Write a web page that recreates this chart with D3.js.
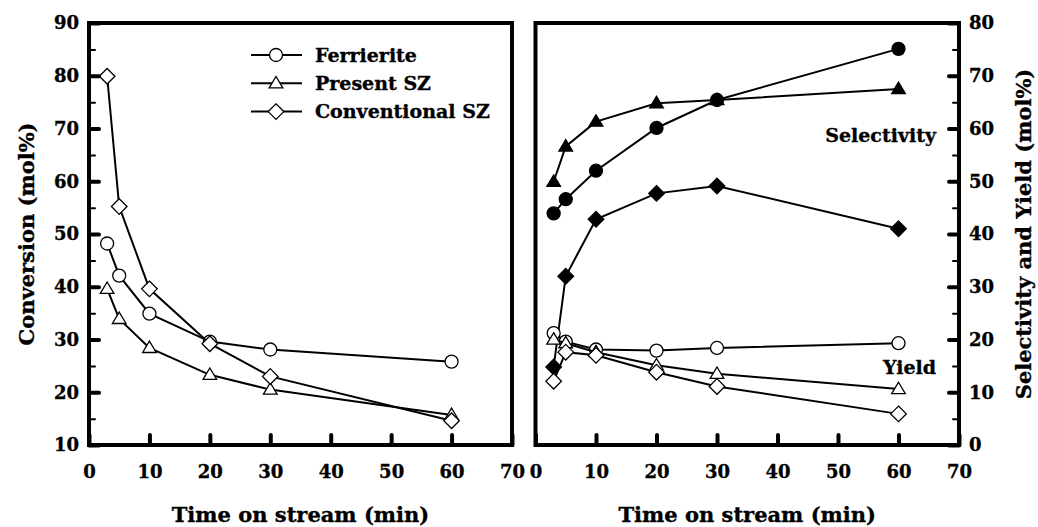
<!DOCTYPE html>
<html>
<head>
<meta charset="utf-8">
<script src="https://cdn.jsdelivr.net/npm/d3@7"></script>
<style>
  body { margin: 0; background: #fff; }
  svg { display: block; }
  text { font-family: "DejaVu Serif", serif; font-weight: bold; fill: #000; stroke: #000; stroke-width: 0.35px; }
  .tick text { font-size: 18px; }
  .axis-title { font-size: 21px; }
  .legend text, .note { font-size: 19px; }
</style>
</head>
<body>
<svg id="chart" width="1038" height="527"></svg>
<script>
// time on stream and the three catalysts
const time = [3, 5, 10, 20, 30, 60];
const catalysts = ["Ferrierite", "Present SZ", "Conventional SZ"];
const markerShapes = ["circle", "triangle", "diamond"];

// left panel: conversion (mol%)
const convFerrierite = [48.2, 42.1, 34.9, 29.6, 28.1, 25.8];
const convPresent = [39.6, 33.9, 28.4, 23.3, 20.5, 15.7];
const convConventional = [79.9, 55.2, 39.6, 29.2, 23.0, 14.6];

// right panel: selectivity (filled) and yield (open), mol%
const selFerrierite = [43.9, 46.6, 52.0, 60.1, 65.4, 75.1];
const selPresent = [49.9, 56.6, 61.3, 64.8, 65.4, 67.5];
const selConventional = [14.8, 32.0, 42.8, 47.7, 49.1, 41.0];
const yieldFerrierite = [21.2, 19.6, 18.1, 17.9, 18.4, 19.3];
const yieldPresent = [20.0, 19.3, 17.6, 15.1, 13.5, 10.6];
const yieldConventional = [12.1, 17.6, 17.0, 13.8, 11.1, 5.9];

// ticks
const xTicks = [0, 10, 20, 30, 40, 50, 60, 70];
const leftMajor = [10, 20, 30, 40, 50, 60, 70, 80, 90];
const leftMinor = [15, 25, 35, 45, 55, 65, 75, 85];
const rightMajor = [0, 10, 20, 30, 40, 50, 60, 70, 80];
const rightMinor = [5, 15, 25, 35, 45, 55, 65, 75];

const svg = d3.select("#chart");

const plotTop = 23, plotBottom = 445;
const xL = d3.scaleLinear().domain([0, 70]).range([89, 512]);
const yL = d3.scaleLinear().domain([10, 90]).range([plotBottom, plotTop]);
const xR = d3.scaleLinear().domain([0, 70]).range([535.5, 959]);
const yR = d3.scaleLinear().domain([0, 80]).range([plotBottom, plotTop]);

function markerPath(shape, r) {
    if (shape === "circle") {
        return `M${-r},0A${r},${r} 0 1,0 ${r},0A${r},${r} 0 1,0 ${-r},0Z`;
    }
    if (shape === "triangle") {
        const h = r * 1.75;
        return `M0,${-h * 0.6}L${r * 1.05},${h * 0.4}L${-r * 1.05},${h * 0.4}Z`;
    }
    const d = r * 1.2;
    return `M0,${-d}L${d},0L0,${d}L${-d},0Z`;
}

function drawSeries(g, x, y, values, shape, filled) {
    const pts = time.map((t, i) => ({ t: t, v: values[i] }));
    g.append("path")
        .datum(pts)
        .attr("fill", "none")
        .attr("stroke", "#000")
        .attr("stroke-width", 2)
        .attr("d", d3.line().x(d => x(d.t)).y(d => y(d.v)));
    g.selectAll(null)
        .data(pts)
        .join("path")
        .attr("transform", d => `translate(${x(d.t)},${y(d.v)})`)
        .attr("d", markerPath(shape, 6.5))
        .attr("fill", filled ? "#000" : "#fff")
        .attr("stroke", "#000")
        .attr("stroke-width", 1.3);
}

function drawFrame(x) {
    svg.append("rect")
        .attr("x", x.range()[0])
        .attr("y", plotTop)
        .attr("width", x.range()[1] - x.range()[0])
        .attr("height", plotBottom - plotTop)
        .attr("fill", "none")
        .attr("stroke", "#000")
        .attr("stroke-width", 4);
}

function styleAxis(g, width) {
    g.select(".domain").remove();
    g.selectAll(".tick line").attr("stroke", "#000").attr("stroke-width", width).attr("stroke-linecap", "round");
}

// ---- left panel ----
const gL = svg.append("g");
drawSeries(gL, xL, yL, convFerrierite, markerShapes[0], false);
drawSeries(gL, xL, yL, convPresent, markerShapes[1], false);
drawSeries(gL, xL, yL, convConventional, markerShapes[2], false);

svg.append("g").attr("transform", `translate(0,${plotBottom})`)
    .call(d3.axisBottom(xL).tickValues(xTicks).tickSize(-10).tickPadding(20))
    .call(g => styleAxis(g, 4));
svg.append("g").attr("transform", `translate(${xL.range()[0]},0)`)
    .call(d3.axisLeft(yL).tickValues(leftMajor).tickSize(-10).tickPadding(10))
    .call(g => styleAxis(g, 4));
svg.append("g").attr("transform", `translate(${xL.range()[0]},0)`)
    .call(d3.axisLeft(yL).tickValues(leftMinor).tickSize(-6).tickFormat(""))
    .call(g => styleAxis(g, 2));
drawFrame(xL);

// ---- right panel ----
const gR = svg.append("g");
drawSeries(gR, xR, yR, selFerrierite, markerShapes[0], true);
drawSeries(gR, xR, yR, selPresent, markerShapes[1], true);
drawSeries(gR, xR, yR, selConventional, markerShapes[2], true);
drawSeries(gR, xR, yR, yieldFerrierite, markerShapes[0], false);
drawSeries(gR, xR, yR, yieldPresent, markerShapes[1], false);
drawSeries(gR, xR, yR, yieldConventional, markerShapes[2], false);

svg.append("g").attr("transform", `translate(0,${plotBottom})`)
    .call(d3.axisBottom(xR).tickValues(xTicks).tickSize(-10).tickPadding(20))
    .call(g => styleAxis(g, 4));
svg.append("g").attr("transform", `translate(${xR.range()[1]},0)`)
    .call(d3.axisRight(yR).tickValues(rightMajor).tickSize(-10).tickPadding(10))
    .call(g => styleAxis(g, 4));
svg.append("g").attr("transform", `translate(${xR.range()[1]},0)`)
    .call(d3.axisRight(yR).tickValues(rightMinor).tickSize(-6).tickFormat(""))
    .call(g => styleAxis(g, 2));
drawFrame(xR);

svg.selectAll(".tick text").attr("fill", "#000");

// ---- titles ----
const midY = (plotTop + plotBottom) / 2;
svg.append("text").attr("class", "axis-title")
    .attr("x", (xL.range()[0] + xL.range()[1]) / 2).attr("y", 522)
    .attr("text-anchor", "middle").text("Time on stream (min)");
svg.append("text").attr("class", "axis-title")
    .attr("x", (xR.range()[0] + xR.range()[1]) / 2).attr("y", 522)
    .attr("text-anchor", "middle").text("Time on stream (min)");
svg.append("text").attr("class", "axis-title")
    .attr("transform", `translate(34,${midY}) rotate(-90)`)
    .attr("text-anchor", "middle").text("Conversion (mol%)");
svg.append("text").attr("class", "axis-title")
    .attr("transform", `translate(1031,${midY}) rotate(-90)`)
    .attr("text-anchor", "middle").text("Selectivity and Yield (mol%)");

svg.append("text").attr("class", "note")
    .attr("x", 936).attr("y", yR(58.8)).attr("dy", "0.36em")
    .attr("text-anchor", "end").text("Selectivity");
svg.append("text").attr("class", "note")
    .attr("x", 936).attr("y", yR(14.8)).attr("dy", "0.36em")
    .attr("text-anchor", "end").text("Yield");

// ---- legend ----
const legend = svg.append("g").attr("class", "legend");
const rows = catalysts.map((c, i) => ({ name: c, shape: markerShapes[i], y: 55 + i * 28.3 }));
legend.selectAll("line").data(rows).join("line")
    .attr("x1", 251).attr("x2", 302)
    .attr("y1", d => d.y).attr("y2", d => d.y)
    .attr("stroke", "#000").attr("stroke-width", 2);
legend.selectAll("path").data(rows).join("path")
    .attr("transform", d => `translate(276,${d.y})`)
    .attr("d", d => markerPath(d.shape, 6.5))
    .attr("fill", "#fff").attr("stroke", "#000").attr("stroke-width", 1.3);
legend.selectAll("text").data(rows).join("text")
    .attr("x", 315).attr("y", d => d.y).attr("dy", "0.36em")
    .text(d => d.name);
</script>
</body>
</html>
